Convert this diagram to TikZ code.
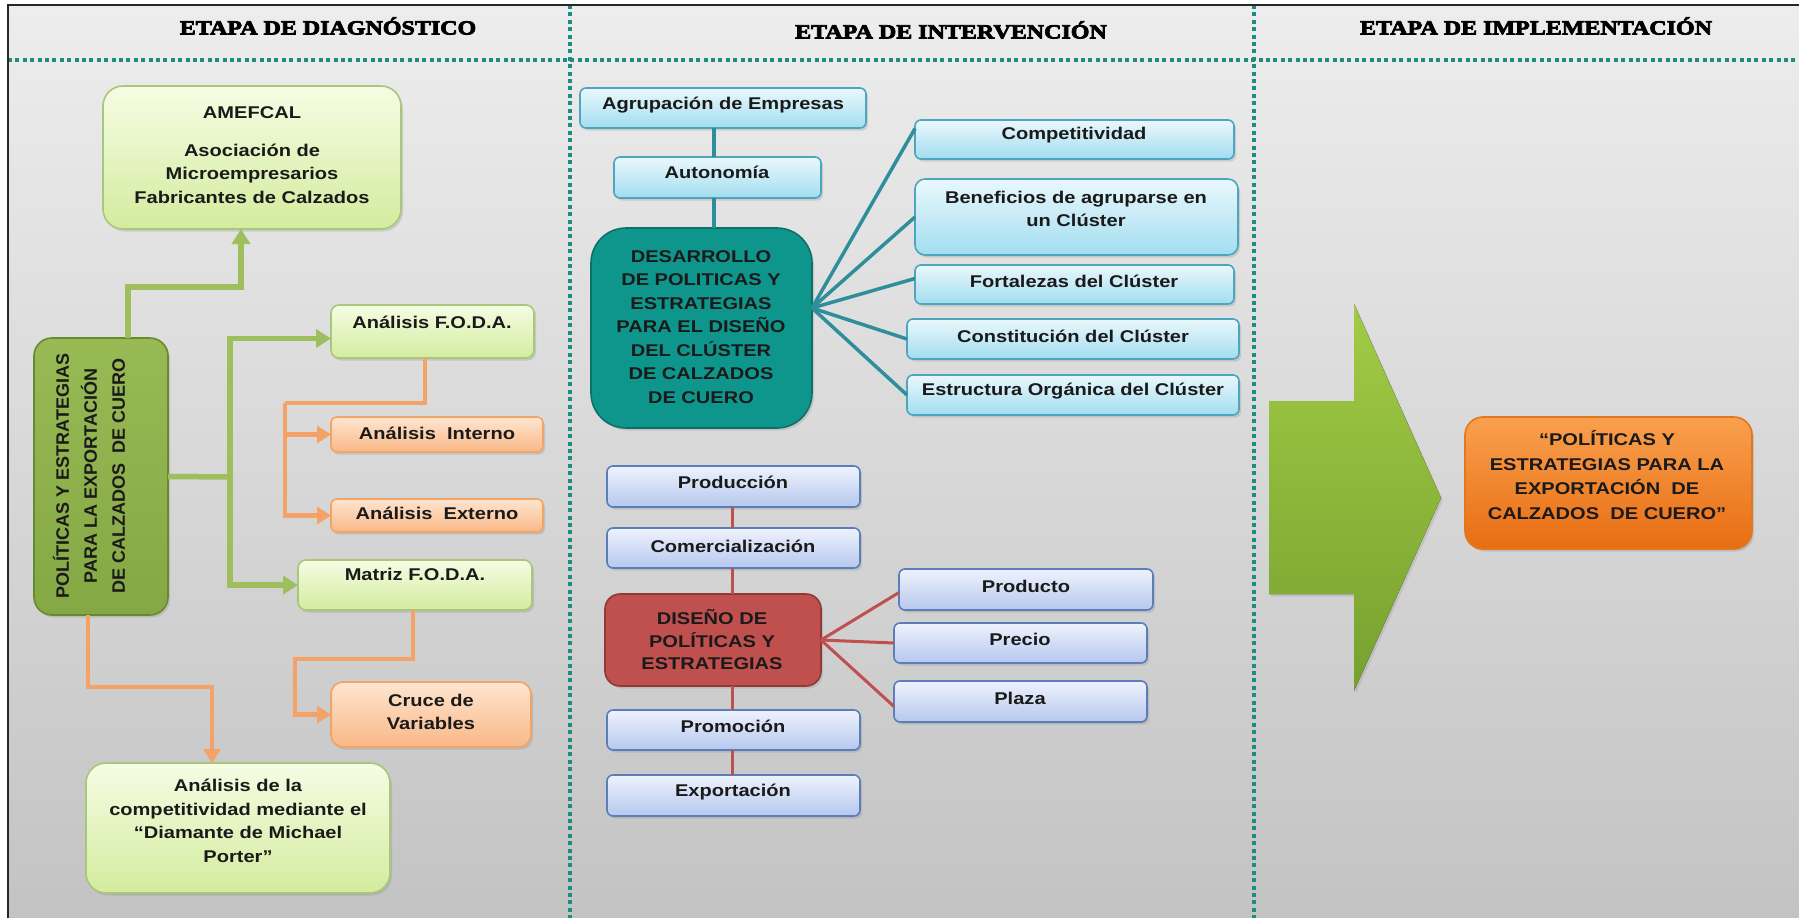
\documentclass[tikz,border=0pt]{standalone}
\usepackage{fontspec}
\setmainfont{Liberation Sans}[FakeStretch=1.18]
\newfontfamily\plainsans{Liberation Sans}
\newfontfamily\titlefont{Liberation Serif}[FakeStretch=1.2,FakeBold=4]
\usetikzlibrary{arrows.meta,shadows}

\definecolor{bgtop}{HTML}{EDEDED}
\definecolor{bgbot}{HTML}{C3C3C3}
\definecolor{dotteal}{HTML}{1E8C7E}
\definecolor{lgtop}{HTML}{F6FCE4}
\definecolor{lgbot}{HTML}{D3EC9E}
\definecolor{lgdraw}{HTML}{A9C77A}
\definecolor{ortop}{HTML}{FEE5D0}
\definecolor{orbot}{HTML}{F9B887}
\definecolor{ordraw}{HTML}{F0A466}
\definecolor{bltop}{HTML}{EAF8FC}
\definecolor{blbot}{HTML}{A2DDF0}
\definecolor{bldraw}{HTML}{4EA5BE}
\definecolor{lvtop}{HTML}{EEF2FD}
\definecolor{lvbot}{HTML}{B6C8EE}
\definecolor{lvdraw}{HTML}{5B7DBA}
\definecolor{tealbox}{HTML}{0E968D}
\definecolor{tealdraw}{HTML}{0B716B}
\definecolor{redbox}{HTML}{C0504D}
\definecolor{reddraw}{HTML}{8E3A37}
\definecolor{poltop}{HTML}{98BA55}
\definecolor{polbot}{HTML}{84A844}
\definecolor{poldraw}{HTML}{688A2E}
\definecolor{finaltop}{HTML}{F9A04E}
\definecolor{finalbot}{HTML}{E86D12}
\definecolor{finaldraw}{HTML}{E0781E}
\definecolor{glinec}{HTML}{9FBF5F}
\definecolor{olinec}{HTML}{F5A266}
\definecolor{tlinec}{HTML}{2F8E9C}
\definecolor{rlinec}{HTML}{C0504D}
\definecolor{arrtop}{HTML}{A2CB45}
\definecolor{arrbot}{HTML}{76A12F}
\definecolor{txtc}{HTML}{1A1A1A}

\newcommand\bx[6]{\node[#2, minimum width={#5-#3}, minimum height={#6-#4}] (#1) at ({(#3+#5)/2},{(#4+#6)/2}) {};}

\tikzset{
  boxbase/.style={inner sep=0pt, outer sep=0pt, line width=1.6pt,
    drop shadow={shadow xshift=2pt, shadow yshift=-2.5pt, opacity=0.25}},
  lgbox/.style={boxbase, draw=lgdraw, top color=lgtop, bottom color=lgbot, rounded corners=#1},
  orbox/.style={boxbase, draw=ordraw, top color=ortop, bottom color=orbot, rounded corners=#1},
  blbox/.style={boxbase, draw=bldraw, top color=bltop, bottom color=blbot, rounded corners=#1},
  lvbox/.style={boxbase, draw=lvdraw, top color=lvtop, bottom color=lvbot, rounded corners=#1},
  tealnode/.style={boxbase, draw=tealdraw, fill=tealbox, rounded corners=35pt},
  rednode/.style={boxbase, draw=reddraw, fill=redbox, rounded corners=15pt},
  polnode/.style={boxbase, draw=poldraw, top color=poltop, bottom color=polbot, rounded corners=18pt},
  finalnode/.style={boxbase, draw=finaldraw, top color=finaltop, bottom color=finalbot, rounded corners=18pt},
  tx/.style={inner sep=0pt, align=center, text=txtc, font=\bfseries\fontsize{17}{23.5}\selectfont},
  ttl/.style={inner sep=0pt, text=black, font=\titlefont\bfseries\fontsize{20}{24}\selectfont},
  dotline/.style={draw=dotteal, line width=4.5pt, dash pattern=on 4pt off 3.4pt},
  gline/.style={draw=glinec, line width=5.5pt},
  garrow/.style={gline, -{Triangle[length=15pt,width=18pt]}},
  oline/.style={draw=olinec, line width=4.5pt},
  oarrow/.style={oline, -{Triangle[length=14pt,width=17pt]}},
  tline/.style={draw=tlinec, line width=3.5pt},
  rline/.style={draw=rlinec, line width=3pt},
}

\begin{document}
\begin{tikzpicture}[x=1pt,y=-1pt]
\useasboundingbox (0,0) rectangle (1799,918);
\fill[white] (0,0) rectangle (1799,918);
\fill[top color=bgtop, bottom color=bgbot] (8,5) rectangle (1799,918);

% separators
\draw[dotline] (8,60) -- (1799,60);
\draw[dotline] (570,5) -- (570,918);
\draw[dotline] (1254,5) -- (1254,918);
\draw[black!85, line width=1.3pt] (8,918) -- (8,5) -- (1799,5);

% titles
\node[ttl] (title1) at (328,26) {ETAPA DE DIAGNÓSTICO};
\node[ttl] (title2) at (951,30) {ETAPA DE INTERVENCIÓN};
\node[ttl] (title3) at (1536,26) {ETAPA DE IMPLEMENTACIÓN};

% ---------------- left panel boxes
\bx{amef}{lgbox=20pt}{103}{86}{401}{229}
\bx{pol}{polnode}{34}{338}{168}{615}
\bx{foda}{lgbox=8pt}{331}{305}{534}{358}
\bx{inter}{orbox=6pt}{331}{417}{543}{452}
\bx{exter}{orbox=6pt}{331}{499}{543}{532}
\bx{matriz}{lgbox=8pt}{298}{560}{532}{610}
\bx{cruce}{orbox=12pt}{331}{682}{531}{747}
\bx{diam}{lgbox=20pt}{86}{763}{390}{893}

\node[tx] (amef-t) at (252,155) {AMEFCAL\\[14pt]Asociación de\\Microempresarios\\Fabricantes de Calzados};
\node[tx, rotate=90, font=\plainsans\bfseries\fontsize{18}{28}\selectfont] (pol-t) at (89,476) {POLÍTICAS Y ESTRATEGIAS\\PARA LA EXPORTACIÓN\\DE CALZADOS~~DE CUERO};
\node[tx] (foda-t) at (432,322) {Análisis F.O.D.A.};
\node[tx] (inter-t) at (437,433) {Análisis~~Interno};
\node[tx] (exter-t) at (437,513) {Análisis~~Externo};
\node[tx] (matriz-t) at (415,574) {Matriz F.O.D.A.};
\node[tx] (cruce-t) at (431,712) {Cruce de\\Variables};
\node[tx] (diam-t) at (238,821) {Análisis de la\\competitividad mediante el\\“Diamante de Michael\\Porter”};

% left connectors
\coordinate (g1) at (128,287);
\coordinate (g2) at (241,287);
\draw[garrow] (pol.north -| g1) -- (g1) -- (g2) -- (amef.south -| g2);
\coordinate (g3) at (230,477);
\draw[gline] (pol.east) -- (g3);
\draw[garrow] (g3) |- ([yshift=-7pt]foda.west);
\draw[garrow] (g3) |- (matriz.west);

\coordinate (o1) at (425,403);
\coordinate (o2) at (285,403);
\draw[oline] (foda.south -| o1) -- (o1) -- (o2);
\draw[oarrow] (o2) |- (inter.west);
\draw[oarrow] (o2) |- (exter.west);

\coordinate (o3) at (413,659);
\coordinate (o4) at (295,659);
\draw[oarrow] (matriz.south -| o3) -- (o3) -- (o4) |- (cruce.west);

\coordinate (o5) at (88,687);
\coordinate (o6) at (212,687);
\draw[oarrow] (pol.south -| o5) -- (o5) -- (o6) -- (diam.north -| o6);

% ---------------- middle panel boxes
\bx{agr}{blbox=6pt}{580}{88}{866}{128}
\bx{autonomia}{blbox=6pt}{614}{157}{821}{198}
\bx{des}{tealnode}{591}{228}{812}{428}
\bx{comp}{blbox=6pt}{915}{120}{1234}{159}
\bx{bene}{blbox=10pt}{915}{179}{1238}{255}
\bx{fort}{blbox=6pt}{915}{265}{1234}{304}
\bx{cons}{blbox=6pt}{907}{319}{1239}{359}
\bx{estr}{blbox=6pt}{907}{375}{1239}{415}

\bx{prod}{lvbox=6pt}{607}{466}{860}{507}
\bx{come}{lvbox=6pt}{607}{528}{860}{568}
\bx{dis}{rednode}{605}{594}{821}{686}
\bx{prom}{lvbox=6pt}{607}{710}{860}{750}
\bx{expo}{lvbox=6pt}{607}{775}{860}{816}
\bx{prodto}{lvbox=6pt}{899}{569}{1153}{610}
\bx{precio}{lvbox=6pt}{894}{623}{1147}{663}
\bx{plaza}{lvbox=6pt}{894}{681}{1147}{722}

\node[tx] (agr-t) at (723,105) {Agrupación de Empresas};
\node[tx] (autonomia-t) at (717,172) {Autonomía};
\node[tx] (des-t) at (701,327) {DESARROLLO\\DE POLITICAS Y\\ESTRATEGIAS\\PARA EL DISEÑO\\DEL CLÚSTER\\DE CALZADOS\\DE CUERO};
\node[tx] (comp-t) at (1074,135) {Competitividad};
\node[tx] (bene-t) at (1076,209) {Beneficios de agruparse en\\un Clúster};
\node[tx] (fort-t) at (1074,281) {Fortalezas del Clúster};
\node[tx] (cons-t) at (1073,336) {Constitución del Clúster};
\node[tx] (estr-t) at (1073,391) {Estructura Orgánica del Clúster};

\node[tx] (prod-t) at (733,482) {Producción};
\node[tx] (come-t) at (733,546) {Comercialización};
\node[tx, font=\bfseries\fontsize{17}{22.5}\selectfont] (dis-t) at (712,640) {DISEÑO DE\\POLÍTICAS Y\\ESTRATEGIAS};
\node[tx] (prom-t) at (733,726) {Promoción};
\node[tx] (expo-t) at (733,792) {Exportación};
\node[tx] (prodto-t) at (1026,586) {Producto};
\node[tx] (precio-t) at (1020,639) {Precio};
\node[tx] (plaza-t) at (1020,698) {Plaza};

% middle connectors
\coordinate (t1) at (714,0);
\draw[tline] (agr.south -| t1) -- (autonomia.north -| t1);
\draw[tline] (autonomia.south -| t1) -- (des.north -| t1);
\coordinate (fan) at ([yshift=20pt]des.east);
\draw[tline] (fan) -- ([yshift=11pt]comp.west);
\draw[tline] (fan) -- (bene.west);
\draw[tline] (fan) -- ([yshift=6pt]fort.west);
\draw[tline] (fan) -- (cons.west);
\draw[tline] (fan) -- (estr.west);

\coordinate (r1) at (732,0);
\draw[rline] (prod.south -| r1) -- (come.north -| r1);
\draw[rline] (come.south -| r1) -- (dis.north -| r1);
\draw[rline] (dis.south -| r1) -- (prom.north -| r1);
\draw[rline] (prom.south -| r1) -- (expo.north -| r1);
\draw[rline] (dis.east) -- ([yshift=-3pt]prodto.west);
\draw[rline] (dis.east) -- (precio.west);
\draw[rline] (dis.east) -- ([yshift=-5pt]plaza.west);

% ---------------- right panel
\fill[top color=arrtop, bottom color=arrbot, drop shadow={shadow xshift=2pt, shadow yshift=-2.5pt, opacity=0.2}]
  (1269,401) -- (1354,401) -- (1354,304) -- (1441,498) -- (1354,691) -- (1354,594) -- (1269,594) -- cycle;
\bx{final}{finalnode}{1465}{417}{1752}{549}
\node[tx, font=\bfseries\fontsize{17}{24.7}\selectfont] (final-t) at (1607,475) {“POLÍTICAS Y\\ESTRATEGIAS PARA LA\\EXPORTACIÓN~~DE\\CALZADOS~~DE CUERO”};
\end{tikzpicture}
\end{document}
